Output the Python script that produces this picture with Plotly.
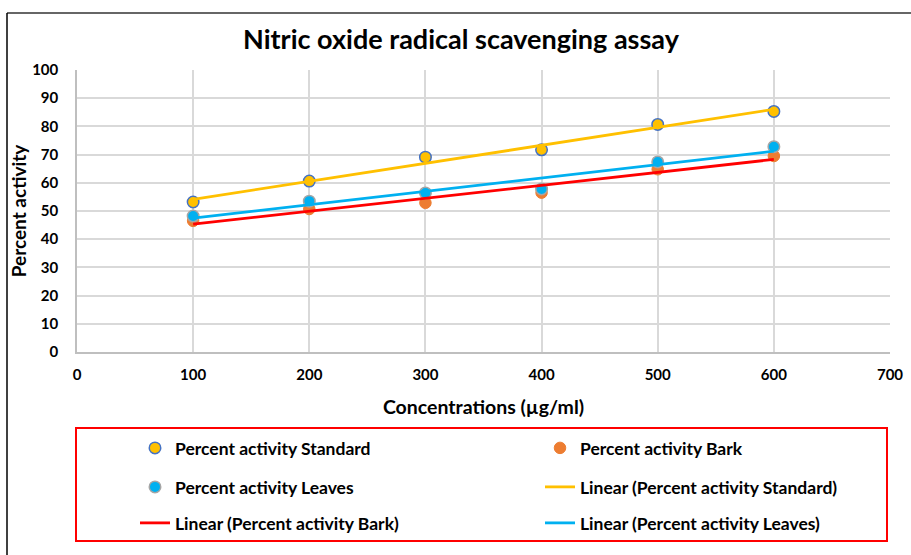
import numpy as np
import plotly.graph_objects as go

conc = [100, 200, 300, 400, 500, 600]
standard = [53.2, 60.6, 69.1, 71.7, 80.7, 85.3]
bark = [46.5, 50.7, 52.9, 56.5, 64.8, 69.5]
leaves = [48.2, 53.5, 56.4, 57.8, 67.4, 72.8]

FONT = "Lato"
L, R, T, B = 77, 21, 70, 203
W, H = 911, 555
PW, PH = W - L - R, H - T - B


def px(x):
    return (x - L) / PW


def py(y):
    return (H - B - y) / PH


def fit(xs, ys):
    m, c = np.polyfit(xs, ys, 1)
    xa = np.array([min(xs), max(xs)])
    return xa, m * xa + c


fig = go.Figure()

fig.add_trace(go.Scatter(x=conc, y=standard, mode="markers", name="<b>Percent activity Standard</b>",
                         marker=dict(color="#FFC000", size=11.5, line=dict(color="#4472C4", width=1.5)),
                         legend="legend"))
fig.add_trace(go.Scatter(x=conc, y=bark, mode="markers", name="<b>Percent activity Bark</b>",
                         marker=dict(color="#ED7D31", size=11.5, line=dict(color="#ED7D31", width=1)),
                         legend="legend2"))
fig.add_trace(go.Scatter(x=conc, y=leaves, mode="markers", name="<b>Percent activity Leaves</b>",
                         marker=dict(color="#00B0F0", size=11.5, line=dict(color="#A5A5A5", width=1.5)),
                         legend="legend3"))

for ys, col, nm, lg in [(standard, "#FFC000", "<b>Linear (Percent activity Standard)</b>", "legend4"),
                        (bark, "#FF0000", "<b>Linear (Percent activity Bark)</b>", "legend5"),
                        (leaves, "#00B0F0", "<b>Linear (Percent activity Leaves)</b>", "legend6")]:
    xa, ya = fit(conc, ys)
    fig.add_trace(go.Scatter(x=xa, y=ya, mode="lines", name=nm,
                             line=dict(color=col, width=2.8), legend=lg))

legend_common = dict(orientation="h", xanchor="left", yanchor="middle",
                     font=dict(family=FONT, size=17.5, color="#000000"),
                     bgcolor="rgba(0,0,0,0)", borderwidth=0, itemclick=False, itemdoubleclick=False)

col1, col2 = px(135), px(540)
row1, row2, row3 = py(448), py(487), py(523)

fig.update_layout(
    template="none",
    showlegend=True,
    width=W, height=H,
    margin=dict(l=L, r=R, t=T, b=B, autoexpand=False),
    paper_bgcolor="white", plot_bgcolor="white",
    title=dict(text="<b>Nitric oxide radical scavenging assay</b>", xref="container", x=461 / W,
               xanchor="center", yref="container", y=1 - 40 / H, yanchor="middle",
               font=dict(family=FONT, size=27, color="#000000")),
    xaxis=dict(range=[0, 700], dtick=100, tick0=0, showgrid=True, gridcolor="#D9D9D9", gridwidth=1.5,
               showline=True, linecolor="#BFBFBF", linewidth=1.5, zeroline=False, ticks="",
               ticklabelstandoff=8, automargin=False,
               tickfont=dict(family=FONT, size=15, color="#000000"),
               tickprefix="<b>", ticksuffix="</b>",
               title=dict(text="<b>Concentrations (µg/ml)</b>", standoff=19,
                          font=dict(family=FONT, size=19.5, color="#000000"))),
    yaxis=dict(range=[0, 100], dtick=10, tick0=0, showgrid=True, gridcolor="#D9D9D9", gridwidth=1.5,
               showline=True, linecolor="#BFBFBF", linewidth=1.5, zeroline=False, ticks="",
               ticklabelstandoff=14, automargin=False,
               tickfont=dict(family=FONT, size=15, color="#000000"),
               tickprefix="<b>", ticksuffix="</b>",
               title=dict(text="<b>Percent activity</b>", standoff=0,
                          font=dict(family=FONT, size=19, color="#000000"))),
    legend=dict(**legend_common, x=col1, y=row1),
    legend2=dict(**legend_common, x=col2, y=row1),
    legend3=dict(**legend_common, x=col1, y=row2),
    legend4=dict(**legend_common, x=col2, y=row2),
    legend5=dict(**legend_common, x=col1, y=row3),
    legend6=dict(**legend_common, x=col2, y=row3),
    shapes=[
        dict(type="rect", xref="paper", yref="paper", x0=px(76), x1=px(887), y0=py(541), y1=py(428),
             line=dict(color="#FF0000", width=2)),
        dict(type="line", xref="paper", yref="paper", x0=px(7), x1=px(911), y0=py(13), y1=py(13),
             line=dict(color="#666666", width=2)),
        dict(type="line", xref="paper", yref="paper", x0=px(7), x1=px(7), y0=py(13), y1=py(556),
             line=dict(color="#000000", width=1.5)),
    ],
)

fig.write_html("out.html")
